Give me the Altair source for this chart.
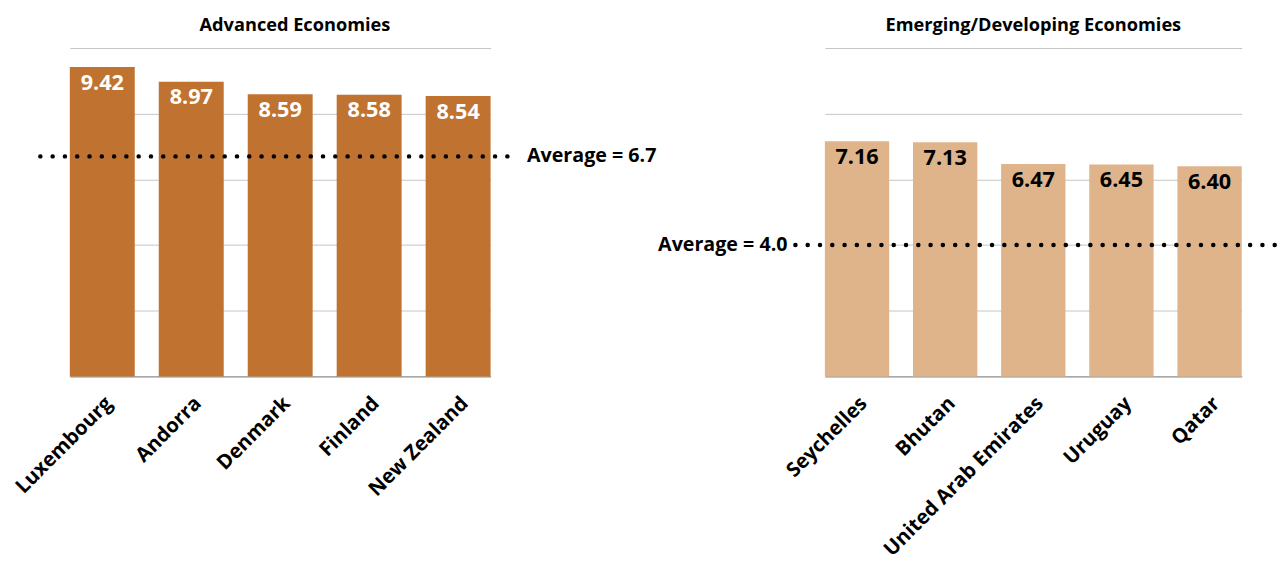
import altair as alt
import pandas as pd

adv_countries = ["Luxembourg", "Andorra", "Denmark", "Finland", "New Zealand"]
adv_values = [9.42, 8.97, 8.59, 8.58, 8.54]
emg_countries = ["Seychelles", "Bhutan", "United Arab Emirates", "Uruguay", "Qatar"]
emg_values = [7.16, 7.13, 6.47, 6.45, 6.40]
averages = [6.7, 4.0]
avg_labels = ["Average = 6.7", "Average = 4.0"]
titles = ["Advanced Economies", "Emerging/Developing Economies"]

FONT = "Open Sans"
H = 334


def panel(countries, values, avg, avg_label, title, color, text_color, W, side, title_dx):
    df = pd.DataFrame({"country": countries, "value": values,
                       "label": [f"{v:.2f}" for v in values]})
    x = alt.X("country:N", sort=countries, title=None,
              scale=alt.Scale(paddingInner=0.27, paddingOuter=0.0),
              axis=alt.Axis(labelAngle=-45, labelFont=FONT, labelFontSize=20.5,
                            labelFontWeight="bold", labelColor="black", ticks=False,
                            domainColor="#888888", labelPadding=17, labelLimit=400))
    y = alt.Y("value:Q", title=None, scale=alt.Scale(domain=[0, 10]),
              axis=alt.Axis(labels=False, ticks=False, domain=False,
                            gridColor="#c4c4c4", values=[0, 2, 4, 6, 8, 10]))
    base = alt.Chart(df)
    bars = base.mark_bar(color=color).encode(x=x, y=y)
    labels = base.mark_text(baseline="alphabetic", dy=23, font=FONT, fontSize=22,
                            fontWeight="bold", color=text_color).encode(
        x=alt.X("country:N", sort=countries), y="value:Q", text="label:N")
    adf = pd.DataFrame({"v": [avg], "label": [avg_label]})
    if side == "right":
        x1, x2, tx, align = -30, W + 26, W + 37, "left"
    else:
        x1, x2, tx, align = -30, W + 40, -38, "right"
    rule = alt.Chart(adf).mark_rule(color="black", strokeWidth=4.5, strokeCap="round",
                                    strokeDash=[0.1, 12.4]).encode(
        y="v:Q", x=alt.value(x1), x2=alt.value(x2))
    atext = alt.Chart(adf).mark_text(align=align, baseline="middle", font=FONT,
                                     fontSize=20, fontWeight="bold", color="black").encode(
        y="v:Q", x=alt.value(tx), text="label:N")
    return alt.layer(bars, labels, rule, atext).properties(
        width=W, height=H,
        title=alt.TitleParams(title, font=FONT, fontSize=18.5, fontWeight="bold",
                              anchor="middle", offset=14, dx=title_dx, color="black"))


left = panel(adv_countries, adv_values, averages[0], avg_labels[0], titles[0],
             "#C07230", "white", 428, "right", 15)
right = panel(emg_countries, emg_values, averages[1], avg_labels[1], titles[1],
              "#DFB48B", "black", 424, "left", 0)

chart = alt.hconcat(left, right, spacing=340, bounds="flush").properties(
    padding={"left": 12, "top": 11, "right": 0, "bottom": 0}
).configure_view(stroke=None)

chart.save("out.html", embed_options={"renderer": "svg", "actions": False})
